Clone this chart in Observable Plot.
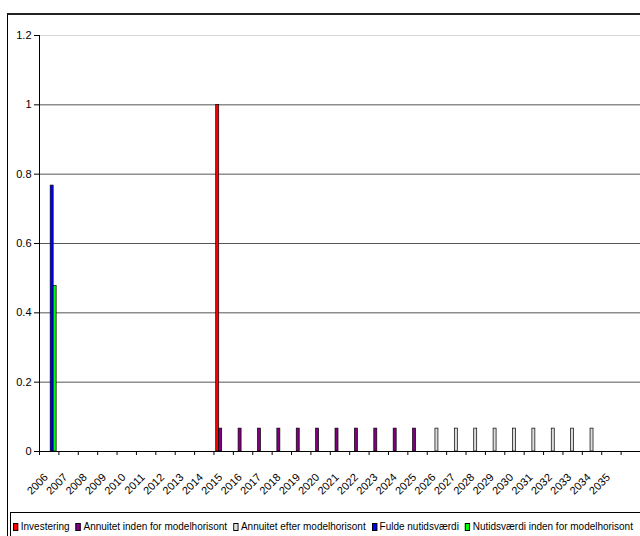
<!DOCTYPE html>
<html>
<head>
<meta charset="utf-8">
<script src="https://cdn.jsdelivr.net/npm/d3@7"></script>
<script src="https://cdn.jsdelivr.net/npm/@observablehq/plot@0.6"></script>
<style>
  html, body { margin: 0; padding: 0; background: #fff; overflow: hidden; }
  #wrap { position: relative; width: 640px; height: 536px; overflow: hidden; background: #fff; }
  #frame { position: absolute; left: 7px; top: 13px; width: 700px; height: 600px; border-top: 2px solid #222; border-left: 1.5px solid #000; }
  #chart { position: absolute; left: 0; top: 0; }
  #legend { position: absolute; left: 10px; top: 512px; width: 700px; height: 60px; border: 1px solid #000; background: #fff; }
  #legrow { position: absolute; left: 2px; top: 6px; display: flex; align-items: center; white-space: nowrap; transform-origin: 0 0; color: #000; line-height: 14px; }
  .item { display: flex; align-items: center; margin-right: 7px; }
  .sw { width: 4px; height: 6px; border: 1px solid #000; margin-right: 3px; margin-top: 1px; }
</style>
</head>
<body>
<div id="wrap">
  <div id="frame"></div>
  <div id="chart"></div>
  <div id="legend"><div id="legrow"></div></div>
</div>
<script>
// ---- data ----
const years = [2006,2007,2008,2009,2010,2011,2012,2013,2014,2015,2016,2017,2018,2019,2020,
               2021,2022,2023,2024,2025,2026,2027,2028,2029,2030,2031,2032,2033,2034,2035];
const investering       = [0,0,0,0,0,0,0,0,0,1.0,0,0,0,0,0,0,0,0,0,0,0,0,0,0,0,0,0,0,0,0];
const annuitetInden     = [0,0,0,0,0,0,0,0,0,0.066,0.066,0.066,0.066,0.066,0.066,0.066,0.066,0.066,0.066,0.066,0,0,0,0,0,0,0,0,0,0];
const annuitetEfter     = [0,0,0,0,0,0,0,0,0,0,0,0,0,0,0,0,0,0,0,0,0.066,0.066,0.066,0.066,0.066,0.066,0.066,0.066,0.066,0];
const fuldeNutidsvaerdi = [0.767,0,0,0,0,0,0,0,0,0,0,0,0,0,0,0,0,0,0,0,0,0,0,0,0,0,0,0,0,0];
const nutidsvaerdiInden = [0.477,0,0,0,0,0,0,0,0,0,0,0,0,0,0,0,0,0,0,0,0,0,0,0,0,0,0,0,0,0];
const seriesNames  = ["Investering","Annuitet inden for modelhorisont","Annuitet efter modelhorisont","Fulde nutidsværdi","Nutidsværdi inden for modelhorisont"];
const seriesValues = [investering, annuitetInden, annuitetEfter, fuldeNutidsvaerdi, nutidsvaerdiInden];
const seriesColors = ["#ff0000","#800080","#dcdcdc","#0000ff","#00ff00"];
const yTicks = [0, 0.2, 0.4, 0.6, 0.8, 1.0, 1.2];

const fam = "'Liberation Sans', Arial, sans-serif";

// ---- rows ----
const nSeries = seriesNames.length;
const rows = [];
seriesValues.forEach((vals, k) => {
  vals.forEach((v, i) => { if (v > 0) rows.push({year: years[i], k, value: v, series: seriesNames[k]}); });
});
const slot = 1 / (nSeries + 1.5); // Excel gap width 150%
const boundaries = years.concat([years[years.length - 1] + 1]);
const centers = years.map(y => y + 0.5);
const gridTicks = yTicks.filter(t => t > 0 && t < 1.2);

const chart = Plot.plot({
  width: 640,
  height: 505,
  marginLeft: 39,
  marginRight: 0,
  marginTop: 35,
  marginBottom: 54,
  style: {fontFamily: fam, fontSize: "11px", color: "#000", background: "transparent"},
  x: {type: "linear", domain: [years[0], years[years.length - 1] + 2], axis: null},
  y: {domain: [0, 1.2], axis: null},
  color: {domain: seriesNames, range: seriesColors},
  marks: [
    Plot.ruleY(gridTicks, {stroke: "#555", strokeWidth: 1}),
    Plot.ruleY([1.2], {stroke: "#d8d8d8", strokeWidth: 1}),
    Plot.rectY(rows, {
      x1: d => d.year + (0.75 + d.k) * slot,
      x2: d => d.year + (1.75 + d.k) * slot,
      y1: 0,
      y2: "value",
      fill: "series",
      stroke: "#000",
      strokeWidth: 0.7
    }),
    Plot.ruleY([0], {stroke: "#000", strokeWidth: 1}),
    Plot.ruleX([years[0]], {stroke: "#000", strokeWidth: 1}),
    Plot.axisY(yTicks, {tickSize: 5, tickPadding: 3, tickFormat: d => String(+d.toFixed(1)), label: null, stroke: "#000"}),
    Plot.axisX(boundaries, {tickSize: 4, tickFormat: () => "", label: null, stroke: "#000"}),
    Plot.axisX(centers, {tickSize: 0, tickPadding: 24, dx: -3, tickRotate: -45, tickFormat: d => String(Math.floor(d)), label: null})
  ]
});
document.getElementById("chart").appendChild(chart);

// ---- legend ----
const row = document.getElementById("legrow");
row.style.fontFamily = fam;
row.style.fontSize = "11.5px";
seriesNames.forEach((name, k) => {
  const it = document.createElement("div");
  it.className = "item";
  const sw = document.createElement("div");
  sw.className = "sw";
  sw.style.background = seriesColors[k];
  const lab = document.createElement("span");
  lab.textContent = name;
  it.appendChild(sw); it.appendChild(lab);
  row.appendChild(it);
});
// fit the legend row into the visible width (reference uses a narrow face)
const natural = row.getBoundingClientRect().width;
const target = 626;
row.style.transform = `scaleX(${target / natural})`;
</script>
</body>
</html>
